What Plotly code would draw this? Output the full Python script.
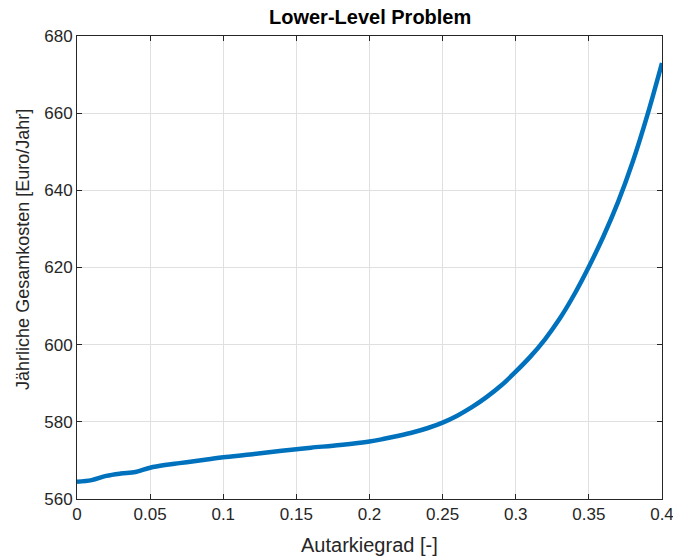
import plotly.graph_objects as go

# Degree of self-sufficiency and resulting annual total cost
autarkiegrad = [0.0, 0.01, 0.02, 0.03, 0.04, 0.05, 0.06, 0.07, 0.08, 0.09, 0.10,
                0.12, 0.14, 0.15, 0.16, 0.18, 0.20, 0.21, 0.22, 0.23, 0.24, 0.25,
                0.26, 0.27, 0.28, 0.29, 0.30, 0.31, 0.32, 0.33, 0.34, 0.35, 0.36,
                0.37, 0.38, 0.39, 0.40]
gesamtkosten = [564.5, 564.9, 566.0, 566.6, 567.0, 568.1, 568.8, 569.3, 569.8, 570.3, 570.8,
                571.6, 572.5, 572.9, 573.3, 574.0, 574.9, 575.6, 576.4, 577.3, 578.4, 579.8,
                581.6, 583.8, 586.4, 589.4, 593.0, 596.9, 601.4, 606.7, 613.0, 620.2, 628.1,
                637.0, 647.4, 659.5, 673.0]

x_ticks = [0, 0.05, 0.1, 0.15, 0.2, 0.25, 0.3, 0.35, 0.4]
x_tick_text = ["0", "0.05", "0.1", "0.15", "0.2", "0.25", "0.3", "0.35", "0.4"]
y_ticks = [560, 580, 600, 620, 640, 660, 680]
y_tick_text = ["560", "580", "600", "620", "640", "660", "680"]

title_text = "Lower-Level Problem"
x_label = "Autarkiegrad [-]"
y_label = "Jährliche Gesamkosten [Euro/Jahr]"

FONT = "Liberation Sans, Arial, sans-serif"
AXIS_COLOR = "#262626"
GRID_COLOR = "#e0e0e0"

fig = go.Figure()
fig.add_trace(go.Scatter(
    x=autarkiegrad, y=gesamtkosten, mode="lines",
    line=dict(color="#0072BD", width=4.5, shape="spline", smoothing=1.0),
    hoverinfo="skip", showlegend=False,
))

axis_common = dict(
    showline=True, linecolor=AXIS_COLOR, linewidth=1, mirror="ticks",
    ticks="inside", ticklen=5, tickwidth=1, tickcolor=AXIS_COLOR,
    showgrid=True, gridcolor=GRID_COLOR, gridwidth=1, zeroline=False,
    automargin=False,
    tickfont=dict(family=FONT, size=17, color=AXIS_COLOR),
)

fig.update_layout(
    width=673, height=558,
    margin=dict(l=77, r=11, t=36, b=59),
    paper_bgcolor="white", plot_bgcolor="white",
    xaxis=dict(range=[0, 0.40001], tickvals=x_ticks, ticktext=x_tick_text,
               ticklabeloverflow="allow", **axis_common),
    yaxis=dict(range=[560, 680], tickvals=y_ticks, ticktext=y_tick_text,
               **axis_common),
    annotations=[
        dict(text=f"<b>{title_text}</b>", xref="paper", yref="paper",
             x=0.5, y=1, xanchor="center", yanchor="bottom", yshift=6,
             showarrow=False, font=dict(family=FONT, size=20, color="black")),
        dict(text=x_label, xref="paper", yref="paper",
             x=0.5, y=0, xanchor="center", yanchor="middle", yshift=-46,
             showarrow=False, font=dict(family=FONT, size=20, color=AXIS_COLOR)),
        dict(text=y_label, xref="paper", yref="paper", textangle=-90,
             x=0, y=0.538, xanchor="center", yanchor="middle", xshift=-54,
             showarrow=False, font=dict(family=FONT, size=18, color=AXIS_COLOR)),
    ],
)

fig.write_html("out.html")
